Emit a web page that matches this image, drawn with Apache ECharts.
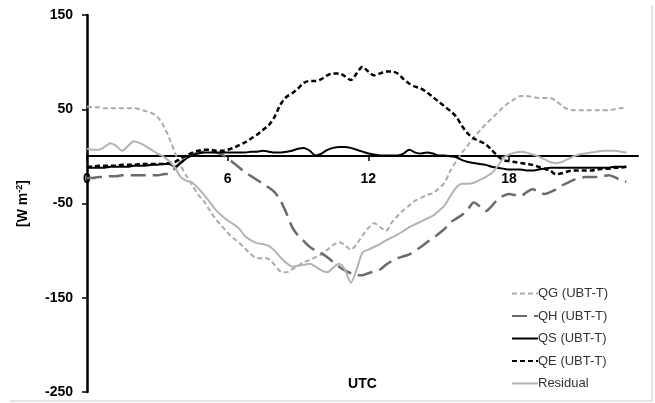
<!DOCTYPE html>
<html>
<head>
<meta charset="utf-8">
<script src="https://cdn.jsdelivr.net/npm/echarts@6/dist/echarts.min.js"></script>
<style>
  html, body { margin: 0; padding: 0; background: #fff; }
  #chart { width: 655px; height: 403px; }
</style>
</head>
<body>
<div id="chart"></div>
<script>
// time of day, every 15 min
const hours = [
  0, 0.25, 0.5, 0.75, 1, 1.25, 1.5, 1.75, 2, 2.25, 2.5, 2.75,
  3, 3.25, 3.5, 3.75, 4, 4.25, 4.5, 4.75, 5, 5.25, 5.5, 5.75,
  6, 6.25, 6.5, 6.75, 7, 7.25, 7.5, 7.75, 8, 8.25, 8.5, 8.75,
  9, 9.25, 9.5, 9.75, 10, 10.25, 10.5, 10.75, 11, 11.25, 11.5, 11.75,
  12, 12.25, 12.5, 12.75, 13, 13.25, 13.5, 13.75, 14, 14.25, 14.5, 14.75,
  15, 15.25, 15.5, 15.75, 16, 16.25, 16.5, 16.75, 17, 17.25, 17.5, 17.75,
  18, 18.25, 18.5, 18.75, 19, 19.25, 19.5, 19.75, 20, 20.25, 20.5, 20.75,
  21, 21.25, 21.5, 21.75, 22, 22.25, 22.5, 22.75, 23
]

const qg = [
  53, 52, 52, 51, 51, 51, 51, 51, 51, 50, 48, 46,
  42, 33, 20, 4, -10, -21, -31, -41, -48, -58, -67, -74,
  -81, -87, -92, -98, -104, -108, -108, -109, -115, -122, -123, -120,
  -116, -112, -110, -107, -104, -99, -94, -91, -94, -99, -93, -84,
  -76, -71, -75, -79, -70, -63, -57, -52, -47, -44, -41, -39,
  -34, -28, -15, -5, 4, 12, 20, 27, 34, 40, 46, 52,
  57, 61, 64, 64, 63, 62, 62, 62, 59, 54, 50, 49,
  49, 49, 49, 49, 49, 49, 50, 51, 52
]
const qh = [
  -23, -23, -22, -22, -21, -21, -20, -20, -20, -20, -20, -20,
  -20, -19, -18, -13, -6, -1, 2, 4, 5, 5, 4, 2,
  -2, -7, -12, -17, -21, -25, -29, -33, -38, -47, -60, -75,
  -84, -90, -96, -100, -103, -107, -112, -117, -121, -124, -126, -126,
  -124, -122, -120, -115, -111, -108, -106, -104, -100, -96, -91, -87,
  -82, -77, -70, -66, -62, -56, -49, -53, -58, -53, -46, -42,
  -40, -41, -42, -38, -35, -37, -40, -38, -35, -31, -28, -25,
  -23, -22, -22, -22, -21, -20, -22, -25, -27
]
const qs = [
  -12, -12, -12, -12, -11, -11, -11, -11, -10, -10, -10, -9,
  -9, -8, -8, -11, -7, -2, 1, 3, 4, 4, 4, 4,
  4, 4, 4, 4, 5, 5, 6, 5, 4, 4, 5, 6,
  8, 9, 6, 1, 3, 7, 9, 10, 10, 9, 7, 5,
  3, 2, 1, 1, 1, 1, 3, 7, 4, 3, 4, 3,
  1, 1, 0, -1, -4, -6, -7, -8, -9, -11, -12, -13,
  -14, -14, -14, -15, -15, -14, -13, -12, -12, -12, -12, -12,
  -12, -12, -12, -12, -12, -12, -11, -11, -11
]
const qe = [
  -11, -11, -10, -10, -10, -10, -9, -9, -9, -8, -8, -8,
  -8, -8, -7, -6, -2, 1, 4, 6, 7, 7, 6, 6,
  7, 9, 12, 15, 19, 23, 28, 33, 42, 55, 63, 67,
  72, 78, 80, 80, 82, 86, 88, 88, 85, 81, 88, 95,
  90, 86, 88, 90, 90, 88, 82, 77, 74, 72, 68, 63,
  58, 53, 48, 42, 32, 24, 19, 16, 13, 7, 1, -4,
  -5, -6, -7, -8, -9, -11, -13, -15, -19, -18, -16, -15,
  -15, -15, -15, -14, -13, -13, -12, -12, -11
]
const residual = [
  8, 7, 7, 10, 14, 11, 6, 11, 16, 14, 11, 7,
  3, 0, -5, -12, -22, -26, -28, -34, -41, -49, -57, -63,
  -68, -72, -77, -85, -89, -92, -93, -95, -100, -107, -113, -117,
  -116, -115, -114, -117, -121, -123, -118, -114, -120, -134, -120, -102,
  -99, -96, -93, -89, -86, -83, -79, -75, -72, -69, -66, -63,
  -58, -52, -42, -33, -29, -29, -28, -25, -22, -18, -11, -2,
  2, 4, 5, 4, 2, 0, -3, -6, -7, -6, -3, 0,
  2, 3, 4, 5, 6, 6, 6, 5, 4
]

const xTicks = [0, 6, 12, 18]
const yTicks = [-250, -150, -50, 50, 150]

const font = 'Liberation Sans, Arial, sans-serif'

function pairs(values) {
  return hours.map((h, i) => [h, values[i]])
}

const chart = echarts.init(document.getElementById('chart'))

const option = {
  animation: false,
  grid: {
    left: 87,
    right: 17,
    top: 15,
    bottom: 11,
    outerBoundsMode: 'none'
  },
  legend: {
    orient: 'vertical',
    left: 506,
    top: 282,
    itemWidth: 26,
    itemHeight: 12,
    itemGap: 9.5,
    itemStyle: { opacity: 0 },
    textStyle: { fontFamily: font, fontSize: 13, color: '#333', padding: [0, 0, 0, -5] },
    data: ['QG (UBT-T)', 'QH (UBT-T)', 'QS (UBT-T)', 'QE (UBT-T)', 'Residual']
  },
  xAxis: {
    type: 'value',
    min: 0,
    max: 23.5,
    position: 'bottom',
    // the axis sits on y = 0, 236 px above the bottom of the grid
    offset: -236,
    name: 'UTC',
    nameLocation: 'middle',
    nameGap: 221,
    nameTextStyle: { fontFamily: font, fontSize: 14, fontWeight: 'bold', color: '#000' },
    axisLine: { onZero: false, lineStyle: { color: '#000', width: 2 } },
    axisTick: { customValues: xTicks, length: 5, lineStyle: { color: '#000', width: 1.5 } },
    axisLabel: {
      customValues: xTicks,
      margin: 16,
      fontFamily: font,
      fontSize: 14,
      fontWeight: 'bold',
      color: '#000'
    },
    splitLine: { show: false }
  },
  yAxis: {
    type: 'value',
    min: -250,
    max: 150,
    name: '[W m{sup|-2}]',
    nameLocation: 'middle',
    nameRotate: 90,
    nameGap: 56,
    nameTextStyle: {
      fontFamily: font,
      fontSize: 14,
      fontWeight: 'bold',
      color: '#000',
      lineHeight: 16,
      rich: {
        sup: { fontFamily: font, fontSize: 9, fontWeight: 'bold', color: '#000', verticalAlign: 'top', lineHeight: 16 }
      }
    },
    axisLine: { show: true, lineStyle: { color: '#000', width: 2.5 } },
    axisTick: { show: true, customValues: yTicks, length: 5, lineStyle: { color: '#000', width: 1.5 } },
    axisLabel: {
      customValues: yTicks,
      margin: 14,
      fontFamily: font,
      fontSize: 14,
      fontWeight: 'bold',
      color: '#000'
    },
    splitLine: { show: false }
  },
  graphic: [
    { type: 'line', shape: { x1: 652, y1: 5, x2: 652, y2: 401 }, style: { stroke: '#c8c8c8', lineWidth: 1 } },
    { type: 'line', shape: { x1: 10, y1: 401, x2: 652, y2: 401 }, style: { stroke: '#c8c8c8', lineWidth: 1 } }
  ],
  series: [
    {
      name: 'QG (UBT-T)',
      type: 'line',
      data: pairs(qg),
      symbol: 'none',
      smooth: 0.3,
      lineStyle: { color: '#ababab', width: 2, type: [5, 3] },
      itemStyle: { color: '#ababab' }
    },
    {
      name: 'QH (UBT-T)',
      type: 'line',
      data: pairs(qh),
      symbol: 'none',
      smooth: 0.3,
      lineStyle: { color: '#6b6b6b', width: 2.5, type: [15, 7] },
      itemStyle: { color: '#6b6b6b' }
    },
    {
      name: 'QS (UBT-T)',
      type: 'line',
      data: pairs(qs),
      symbol: 'none',
      smooth: 0.3,
      lineStyle: { color: '#000', width: 2 },
      itemStyle: { color: '#000' }
    },
    {
      name: 'QE (UBT-T)',
      type: 'line',
      data: pairs(qe),
      symbol: 'none',
      smooth: 0.3,
      lineStyle: { color: '#000', width: 2.5, type: [5, 3] },
      itemStyle: { color: '#000' }
    },
    {
      name: 'Residual',
      type: 'line',
      data: pairs(residual),
      symbol: 'none',
      smooth: 0.3,
      lineStyle: { color: '#b3b3b3', width: 2 },
      itemStyle: { color: '#b3b3b3' }
    }
  ]
}

chart.setOption(option)
</script>
</body>
</html>
